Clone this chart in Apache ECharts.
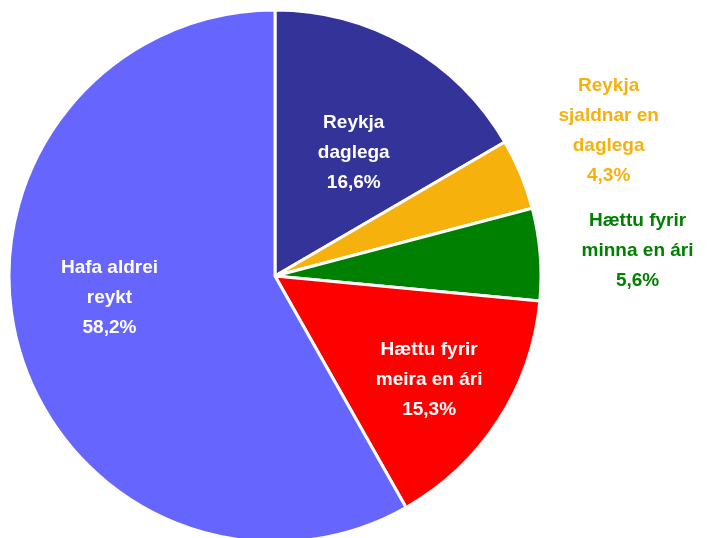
<!DOCTYPE html>
<html>
<head>
<meta charset="utf-8">
<script src="https://cdn.jsdelivr.net/npm/echarts@6/dist/echarts.min.js"></script>
<style>
html,body{margin:0;padding:0;background:#fff;}
#main{width:712px;height:538px;}
</style>
</head>
<body>
<div id="main"></div>
<script>
const categories = ["Reykja\ndaglega", "Reykja\nsjaldnar en\ndaglega", "Hættu fyrir\nminna en ári", "Hættu fyrir\nmeira en ári", "Hafa aldrei\nreykt"];
const values = [16.6, 4.3, 5.6, 15.3, 58.2];
const colors = ["#333399", "#F7B10C", "#008000", "#FF0000", "#6666FF"];
const labelColors = ["#FFFFFF", "#F7B10C", "#008000", "#FFFFFF", "#FFFFFF"];
const labelOffsets = [[11, -5], [208, -93], [227, -14], [40, 30], [-34, -13]];

const chart = echarts.init(document.getElementById('main'), null, {renderer: 'canvas'});
chart.setOption({
  animation: false,
  series: [{
    type: 'pie',
    center: [275, 276],
    radius: [0, 266],
    startAngle: 90,
    clockwise: true,
    avoidLabelOverlap: false,
    itemStyle: {borderColor: '#fff', borderWidth: 3},
    label: {
      position: 'inside',
      fontFamily: '"Liberation Sans Narrow", "Arial Narrow", "Liberation Sans", Arial, sans-serif',
      fontWeight: 'bold',
      fontSize: 19,
      lineHeight: 30,
      align: 'center',
      formatter: function (p) {
        return p.name + '\n' + p.value.toFixed(1).replace('.', ',') + '%';
      }
    },
    labelLine: {show: false},
    data: values.map((v, i) => ({
      name: categories[i],
      value: v,
      itemStyle: {color: colors[i]},
      label: {color: labelColors[i], offset: labelOffsets[i]}
    }))
  }]
});
</script>
</body>
</html>
